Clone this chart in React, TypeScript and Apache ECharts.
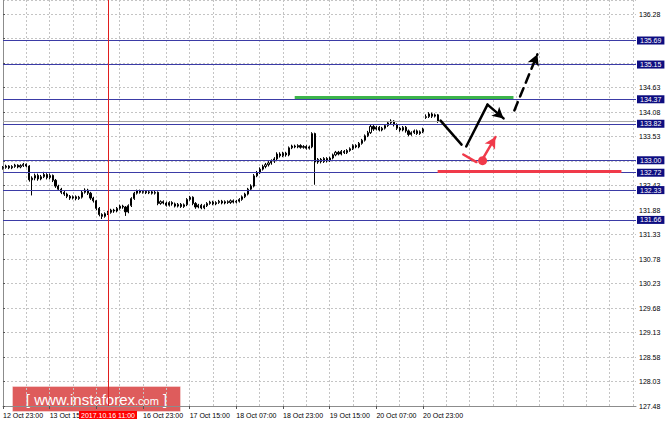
import React, { useEffect, useRef } from 'react';
import * as echarts from 'echarts';

// ---- time axis (H1 bars, weekend skipped) ----
const TRADING_DAYS = ['12 Oct', '13 Oct', '16 Oct', '17 Oct', '18 Oct', '19 Oct', '20 Oct', '23 Oct'];
const FIRST_HOUR = [23, 0, 0, 0, 0, 0, 0, 0];
const LAST_HOUR = [23, 23, 23, 23, 23, 23, 23, 4];
const FUTURE_SLOTS = 68;
const CROSSHAIR_INDEX = 36;
const CROSSHAIR_LABEL = '2017.10.16 11:00';
const HIDDEN_TIME_LABELS = [32]; // covered by the crosshair label in the original

// ---- price axis ----
const Y_MIN = 127.48;
const Y_MAX = 136.6;
const Y_STEP = 0.55;

// ---- candles: [open, close, low, high] ----
const CANDLES: number[][] = [
  [132.82, 132.84, 132.79, 132.87], [132.84, 132.87, 132.81, 132.90], [132.87, 132.83, 132.80, 132.89], [132.83, 132.86, 132.80, 132.89],
  [132.86, 132.89, 132.83, 132.92], [132.89, 132.85, 132.82, 132.91], [132.85, 132.88, 132.82, 132.91], [132.88, 132.91, 132.85, 132.94],
  [132.91, 132.87, 132.84, 132.93], [132.87, 132.56, 132.52, 132.89], [132.56, 132.60, 132.21, 132.64], [132.60, 132.66, 132.55, 132.70],
  [132.66, 132.58, 132.54, 132.70], [132.58, 132.63, 132.55, 132.67], [132.63, 132.68, 132.60, 132.74], [132.68, 132.61, 132.57, 132.71],
  [132.61, 132.66, 132.57, 132.70], [132.66, 132.55, 132.51, 132.68], [132.55, 132.42, 132.38, 132.58], [132.42, 132.35, 132.31, 132.45],
  [132.35, 132.28, 132.24, 132.38], [132.28, 132.24, 132.20, 132.31], [132.24, 132.19, 132.15, 132.27], [132.19, 132.15, 132.11, 132.22],
  [132.15, 132.18, 132.12, 132.21], [132.18, 132.14, 132.10, 132.21], [132.14, 132.17, 132.11, 132.20], [132.17, 132.28, 132.14, 132.31],
  [132.28, 132.33, 132.25, 132.37], [132.33, 132.26, 132.22, 132.36], [132.26, 132.15, 132.11, 132.29], [132.15, 132.09, 132.05, 132.18],
  [132.09, 131.92, 131.88, 132.11], [131.92, 131.78, 131.74, 131.95], [131.78, 131.74, 131.68, 131.81], [131.74, 131.80, 131.71, 131.83],
  [131.80, 131.83, 131.77, 131.86], [131.83, 131.88, 131.80, 131.91], [131.88, 131.86, 131.82, 131.91], [131.86, 131.92, 131.83, 131.95],
  [131.92, 131.97, 131.89, 132.00], [131.97, 131.95, 131.91, 132.00], [131.95, 131.84, 131.75, 131.97], [131.84, 131.98, 131.81, 132.01],
  [131.98, 132.14, 131.95, 132.17], [132.14, 132.26, 132.11, 132.29], [132.26, 132.31, 132.23, 132.34], [132.31, 132.28, 132.25, 132.34],
  [132.28, 132.30, 132.25, 132.33], [132.30, 132.27, 132.24, 132.33], [132.27, 132.29, 132.24, 132.32], [132.29, 132.26, 132.23, 132.32],
  [132.26, 132.28, 132.23, 132.31], [132.28, 132.03, 131.99, 132.30], [132.03, 132.07, 132.00, 132.10], [132.07, 132.04, 132.01, 132.10],
  [132.04, 131.99, 131.96, 132.07], [131.99, 132.05, 131.96, 132.08], [132.05, 132.02, 131.98, 132.08], [132.02, 131.97, 131.94, 132.05],
  [131.97, 132.01, 131.94, 132.04], [132.01, 131.96, 131.93, 132.04], [131.96, 132.00, 131.93, 132.03], [132.00, 132.12, 131.97, 132.15],
  [132.12, 132.17, 132.09, 132.20], [132.17, 132.03, 131.99, 132.19], [132.03, 131.95, 131.91, 132.06], [131.95, 131.99, 131.92, 132.02],
  [131.99, 131.93, 131.90, 132.02], [131.93, 131.98, 131.90, 132.01], [131.98, 132.03, 131.95, 132.06], [132.03, 132.06, 132.00, 132.09],
  [132.06, 132.02, 131.99, 132.09], [132.02, 132.05, 131.99, 132.08], [132.05, 132.08, 132.02, 132.11], [132.08, 132.04, 132.01, 132.11],
  [132.04, 132.07, 132.01, 132.10], [132.07, 132.05, 132.02, 132.10], [132.05, 132.09, 132.02, 132.12], [132.09, 132.06, 132.03, 132.12],
  [132.06, 132.08, 132.03, 132.11], [132.08, 132.12, 132.05, 132.15], [132.12, 132.18, 132.09, 132.21], [132.18, 132.24, 132.15, 132.27],
  [132.24, 132.35, 132.21, 132.38], [132.35, 132.42, 132.32, 132.46], [132.42, 132.65, 132.39, 132.69], [132.65, 132.72, 132.62, 132.76],
  [132.72, 132.80, 132.69, 132.84], [132.80, 132.86, 132.77, 132.90], [132.86, 132.90, 132.82, 132.94], [132.90, 132.94, 132.86, 132.98],
  [132.94, 132.98, 132.90, 133.02], [132.98, 133.03, 132.94, 133.07], [133.03, 133.14, 133.00, 133.18], [133.14, 133.10, 133.06, 133.18],
  [133.10, 133.16, 133.07, 133.19], [133.16, 133.12, 133.08, 133.19], [133.12, 133.28, 133.09, 133.31], [133.28, 133.32, 133.25, 133.35],
  [133.32, 133.30, 133.27, 133.35], [133.30, 133.33, 133.27, 133.36], [133.33, 133.29, 133.26, 133.36], [133.29, 133.31, 133.26, 133.34],
  [133.31, 133.27, 133.24, 133.34], [133.27, 133.30, 133.24, 133.33], [133.30, 133.60, 133.27, 133.63], [133.60, 132.96, 132.45, 133.62],
  [132.96, 133.02, 132.92, 133.05], [133.02, 132.97, 132.93, 133.05], [132.97, 133.04, 132.94, 133.07], [133.04, 132.99, 132.95, 133.07],
  [132.99, 133.05, 132.96, 133.08], [133.05, 133.12, 133.02, 133.15], [133.12, 133.18, 133.09, 133.21], [133.18, 133.14, 133.11, 133.21],
  [133.14, 133.20, 133.11, 133.23], [133.20, 133.17, 133.14, 133.23], [133.17, 133.22, 133.14, 133.25], [133.22, 133.26, 133.19, 133.29],
  [133.26, 133.33, 133.23, 133.36], [133.33, 133.30, 133.27, 133.36], [133.30, 133.38, 133.27, 133.41], [133.38, 133.45, 133.35, 133.48],
  [133.45, 133.55, 133.42, 133.58], [133.55, 133.62, 133.52, 133.66], [133.62, 133.76, 133.59, 133.80], [133.76, 133.70, 133.66, 133.79],
  [133.70, 133.74, 133.67, 133.77], [133.74, 133.68, 133.65, 133.77], [133.68, 133.72, 133.65, 133.75], [133.72, 133.78, 133.69, 133.81],
  [133.78, 133.84, 133.75, 133.88], [133.84, 133.88, 133.81, 133.92], [133.88, 133.80, 133.76, 133.90], [133.80, 133.72, 133.68, 133.83],
  [133.72, 133.68, 133.64, 133.75], [133.68, 133.74, 133.65, 133.77], [133.74, 133.66, 133.62, 133.77], [133.66, 133.58, 133.54, 133.69],
  [133.58, 133.62, 133.55, 133.65], [133.62, 133.66, 133.59, 133.69], [133.66, 133.60, 133.57, 133.69], [133.60, 133.64, 133.57, 133.67],
  [133.64, 133.70, 133.61, 133.73], [133.96, 133.98, 133.93, 134.03], [133.98, 134.04, 133.95, 134.08], [134.04, 133.99, 133.95, 134.07],
  [133.99, 134.02, 133.96, 134.05], [134.02, 133.87, 133.84, 134.04],
];

// ---- horizontal levels ----
const LEVELS = [135.69, 135.15, 134.37, 133.82, 133.0, 132.72, 132.33, 131.66];
const BID = 133.87;
const GREEN_ZONE = { from: 100, to: 175, price: 134.41 };
const RED_ZONE = { from: 149, to: 212, price: 132.76 };

// ---- forecast arrows, in [bar index, price] ----
const BLACK_PATH: number[][] = [[150.0, 133.89], [157.2, 133.35]];
const BLACK_PATH2: number[][] = [[158.8, 133.31], [166.1, 134.25], [171.6, 133.94]];
const BLACK_DASH: number[][] = [[175.3, 134.12], [183.2, 135.38]];
const RED_SHORT: number[][] = [[157.8, 133.13], [162.3, 132.96]];
const RED_DOT: number[] = [164.4, 132.99];
const RED_ARROW: number[][] = [[164.7, 133.06], [168.8, 133.52]];

const WATERMARK = { bracketL: '[ ', site: 'www.instaforex', tld: '.com', bracketR: ' ]' };

const FONT = 'Liberation Sans, Arial, sans-serif';

function buildCategories(): string[] {
  const out: string[] = [];
  TRADING_DAYS.forEach((d, k) => {
    for (let h = FIRST_HOUR[k]; h <= LAST_HOUR[k]; h++) {
      out.push(`${d} ${String(h).padStart(2, '0')}:00`);
    }
  });
  for (let k = 0; k < FUTURE_SLOTS; k++) out.push(`+${k + 1}`);
  return out;
}

function seg(points: number[][], color: string, width: number, dashed: any, arrowEnd: boolean) {
  const out: any[] = [];
  for (let i = 0; i < points.length - 1; i++) {
    const last = i === points.length - 2;
    out.push([
      { coord: points[i], symbol: 'none' },
      {
        coord: points[i + 1],
        symbol: last && arrowEnd ? 'arrow' : 'none',
        symbolSize: [9, 11],
        lineStyle: { color, width, type: dashed, cap: 'round' },
        itemStyle: { color },
      },
    ]);
  }
  return out;
}

export default function App() {
  const ref = useRef<HTMLDivElement>(null);
  useEffect(() => {
    const chart = echarts.init(ref.current!, null, { renderer: 'svg' });
    const cats = buildCategories();
    const lastIdx = cats.length - 1;
    const realCount = CANDLES.length;
    const gridDash = { color: '#c4c4c4', type: [2, 2] as any, width: 1 };
    const showTime = (i: number) => i % 16 === 0 && i < realCount;

    const levelLabel = (txt: string, bg: string) => ({
      show: true,
      position: 'end',
      distance: 1,
      formatter: txt,
      color: '#ffffff',
      backgroundColor: bg,
      padding: [1, 3, 0, 3],
      fontSize: 7,
      fontFamily: FONT,
    });

    const option: any = {
      animation: false,
      backgroundColor: '#ffffff',
      grid: { left: 1, right: 29, top: 0, bottom: 18, containLabel: false },
      xAxis: [
        {
          type: 'category',
          data: cats,
          boundaryGap: false,
          axisLine: { show: true, lineStyle: { color: '#8c8c8c' } },
          axisTick: {
            show: true,
            length: 3,
            lineStyle: { color: '#555' },
            interval: (i: number) => showTime(i),
          },
          axisLabel: {
            interval: (i: number) => showTime(i) && HIDDEN_TIME_LABELS.indexOf(i) < 0,
            align: 'left',
            margin: 6,
            fontSize: 7,
            color: '#000',
            fontFamily: FONT,
            hideOverlap: false,
          },
          splitLine: {
            show: true,
            interval: (i: number) => i % 8 === 0,
            lineStyle: gridDash,
          },
        },
        { type: 'value', min: 0, max: lastIdx, show: false },
      ],
      yAxis: {
        type: 'value',
        position: 'right',
        min: Y_MIN,
        max: Y_MAX,
        interval: Y_STEP,
        scale: true,
        axisLine: { show: true, lineStyle: { color: '#8c8c8c' } },
        axisTick: { show: true, length: 2, lineStyle: { color: '#555' } },
        axisLabel: {
          margin: 3,
          fontSize: 7,
          color: '#000',
          fontFamily: FONT,
          showMaxLabel: false,
          // tick labels sitting under a level box are not visible in the original
          formatter: (v: number) => (LEVELS.some((l) => Math.abs(l - v) < 0.05) ? '' : v.toFixed(2)),
        },
        splitLine: { show: true, lineStyle: gridDash },
      },
      series: [
        {
          type: 'candlestick',
          data: CANDLES,
          barWidth: 1.6,
          itemStyle: {
            color: '#ffffff',
            color0: '#000000',
            borderColor: '#000000',
            borderColor0: '#000000',
            borderWidth: 1,
          },
          markLine: {
            silent: true,
            symbol: 'none',
            animation: false,
            emphasis: { disabled: true },
            data: [
              {
                yAxis: BID,
                lineStyle: { color: '#a9a9a9', width: 1, type: 'solid' },
                label: { show: false },
              },
              ...LEVELS.map((v) => ({
                yAxis: v,
                lineStyle: { color: '#3b3ba6', width: 1, type: 'solid' },
                label: levelLabel(v.toFixed(2), '#0d0d80'),
              })),
              {
                xAxis: CROSSHAIR_INDEX,
                lineStyle: { color: '#e01e1e', width: 1, type: 'solid' },
                label: {
                  show: true,
                  position: 'start',
                  distance: 5,
                  formatter: CROSSHAIR_LABEL,
                  color: '#ffffff',
                  backgroundColor: '#ff0000',
                  padding: [1, 2, 0, 2],
                  fontSize: 7,
                  fontFamily: FONT,
                },
              },
            ],
          },
        },
        {
          type: 'line',
          xAxisIndex: 1,
          data: [[BLACK_PATH[0][0], BLACK_PATH[0][1]]],
          symbol: 'none',
          showSymbol: false,
          lineStyle: { opacity: 0 },
          silent: true,
          markLine: {
            silent: true,
            animation: false,
            emphasis: { disabled: true },
            label: { show: false },
            data: [
              [
                { coord: [GREEN_ZONE.from, GREEN_ZONE.price], symbol: 'none' },
                { coord: [GREEN_ZONE.to, GREEN_ZONE.price], symbol: 'none', lineStyle: { color: '#3cb44b', width: 3, type: 'solid' } },
              ],
              [
                { coord: [RED_ZONE.from, RED_ZONE.price], symbol: 'none' },
                { coord: [RED_ZONE.to, RED_ZONE.price], symbol: 'none', lineStyle: { color: '#f03a4a', width: 3, type: 'solid' } },
              ],
              ...seg(BLACK_PATH, '#000000', 2.5, 'solid', false),
              ...seg(BLACK_PATH2, '#000000', 2.5, 'solid', true),
              ...seg(BLACK_DASH, '#000000', 2.5, [9, 6], true),
              ...seg(RED_SHORT, '#f03a4a', 2.5, 'solid', false),
              ...seg(RED_ARROW, '#f03a4a', 2.5, 'solid', true),
            ],
          },
          markPoint: {
            silent: true,
            animation: false,
            label: { show: false },
            data: [
              { coord: RED_DOT, symbol: 'circle', symbolSize: 9, itemStyle: { color: '#f03a4a' } },
            ],
          },
        },
      ],
      graphic: [
        {
          type: 'group',
          left: 12,
          top: 386,
          z: 100,
          children: [
            {
              type: 'rect',
              shape: { x: 0, y: 0, width: 168, height: 25 },
              style: { fill: 'rgba(216,64,64,0.85)', stroke: 'rgba(255,255,255,0.35)', lineWidth: 1 },
            },
            {
              type: 'text',
              x: 84,
              y: 13,
              style: {
                text: `{b|${WATERMARK.bracketL}}{a|${WATERMARK.site}}{c|${WATERMARK.tld}}{b|${WATERMARK.bracketR}}`,
                align: 'center',
                verticalAlign: 'middle',
                fill: '#ffffff',
                rich: {
                  a: { fontSize: 15, fontFamily: FONT, fill: '#ffffff' },
                  b: { fontSize: 15, fontFamily: FONT, fill: '#ffffff' },
                  c: { fontSize: 11, fontFamily: FONT, fill: '#ffffff', padding: [3, 0, 0, 0] },
                },
              },
            },
          ],
        },
      ],
    };
    chart.setOption(option);
    return () => chart.dispose();
  }, []);
  return (
    <div
      ref={ref}
      style={{ position: 'fixed', left: 0, top: 0, width: 665, height: 424, background: '#fff' }}
    />
  );
}
